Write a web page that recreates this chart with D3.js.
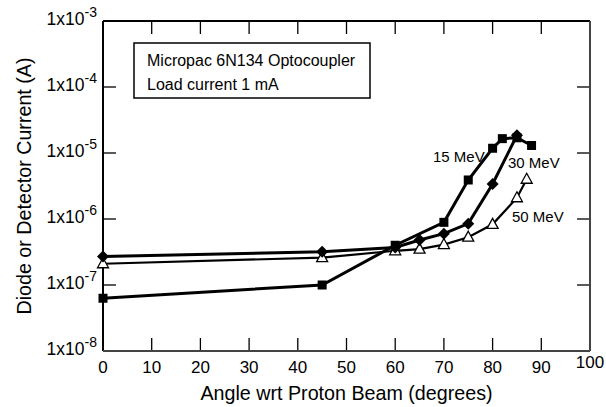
<!DOCTYPE html>
<html><head><meta charset="utf-8">
<script src="https://cdn.jsdelivr.net/npm/d3@7"></script>
<style>body{margin:0;background:#fff}svg{display:block}text{font-family:"Liberation Sans",Arial,sans-serif;fill:#000}</style>
</head><body><svg id="c" width="606" height="407"></svg>
<script>
const angles15 = [0,45,60,70,75,80,82,85,88];
const current15 = [6.3e-8,1.0e-7,4.0e-7,8.9e-7,3.9e-6,1.18e-5,1.65e-5,1.7e-5,1.3e-5];
const angles30 = [0,45,60,65,70,75,80,85];
const current30 = [2.7e-7,3.2e-7,3.7e-7,4.8e-7,6.0e-7,8.5e-7,3.4e-6,1.85e-5];
const angles50 = [0,45,60,65,70,75,80,85,87];
const current50 = [2.1e-7,2.6e-7,3.3e-7,3.5e-7,4.1e-7,5.3e-7,8.3e-7,2.1e-6,4.0e-6];
const xTicks = [0,10,20,30,40,50,60,70,80,90,100];
const yTickExps = [-3,-4,-5,-6,-7,-8];
const seriesLabels = ["15 MeV","30 MeV","50 MeV"];
const legendLines = ["Micropac 6N134 Optocoupler","Load current 1 mA"];

const L=103,R=590,T=21,B=351;
const svg=d3.select("#c");
const x=d3.scaleLinear().domain([0,100]).range([L,R]);
const y=d3.scaleLog().domain([1e-8,1e-3]).range([B,T]);
const tk=13;

const g=svg.append("g");
xTicks.forEach(v=>{
  g.append("line").attr("x1",x(v)).attr("x2",x(v)).attr("y1",B).attr("y2",B-tk).attr("stroke","#000").attr("stroke-width",1.3);
  g.append("line").attr("x1",x(v)).attr("x2",x(v)).attr("y1",T).attr("y2",T+tk).attr("stroke","#000").attr("stroke-width",1.3);
  g.append("text").attr("x",x(v)).attr("y",v===100?368:373).attr("text-anchor","middle").attr("font-size",17).text(v);
});
yTickExps.forEach(e=>{
  const v=Math.pow(10,e);
  g.append("line").attr("x1",L).attr("x2",L+tk).attr("y1",y(v)).attr("y2",y(v)).attr("stroke","#000").attr("stroke-width",1.3);
  g.append("line").attr("x1",R).attr("x2",R-tk).attr("y1",y(v)).attr("y2",y(v)).attr("stroke","#000").attr("stroke-width",1.3);
  const t=g.append("text").attr("x",L-6).attr("y",y(v)+4).attr("text-anchor","end").attr("font-size",17.5);
  t.append("tspan").text("1x10");
  t.append("tspan").attr("dy",-8).attr("font-size",14).text(String(e));
});
svg.append("line").attr("x1",L).attr("x2",R).attr("y1",T).attr("y2",T).attr("stroke","#000").attr("stroke-width",2);
svg.append("line").attr("x1",L).attr("x2",L).attr("y1",T).attr("y2",B).attr("stroke","#000").attr("stroke-width",2);
svg.append("line").attr("x1",L).attr("x2",R).attr("y1",B).attr("y2",B).attr("stroke","#444").attr("stroke-width",2);
svg.append("line").attr("x1",R).attr("x2",R).attr("y1",T).attr("y2",B).attr("stroke","#444").attr("stroke-width",2);

svg.append("text").attr("x",(L+R)/2).attr("y",400).attr("text-anchor","middle").attr("font-size",19.7).text("Angle wrt Proton Beam (degrees)");
svg.append("text").attr("transform",`translate(31,${(T+B)/2}) rotate(-90)`).attr("text-anchor","middle").attr("font-size",19.7).text("Diode or Detector Current (A)");

svg.append("rect").attr("x",134).attr("y",43).attr("width",236).attr("height",55).attr("fill","#fff").attr("stroke","#000").attr("stroke-width",1.5);
legendLines.forEach((s,i)=>svg.append("text").attr("x",147).attr("y",66+i*24).attr("font-size",16).text(s));

const line=d3.line().x(d=>x(d[0])).y(d=>y(d[1]));
const s15=angles15.map((a,i)=>[a,current15[i]]);
const s30=angles30.map((a,i)=>[a,current30[i]]);
const s50=angles50.map((a,i)=>[a,current50[i]]);

svg.append("path").attr("d",line(s50)).attr("fill","none").attr("stroke","#000").attr("stroke-width",2.2);
svg.append("path").attr("d",line(s15)).attr("fill","none").attr("stroke","#000").attr("stroke-width",3);
svg.append("path").attr("d",line(s30)).attr("fill","none").attr("stroke","#000").attr("stroke-width",3);

svg.selectAll(".sq").data(s15).enter().append("rect")
  .attr("x",d=>x(d[0])-4.5).attr("y",d=>y(d[1])-4.5).attr("width",9).attr("height",9).attr("fill","#000");
svg.selectAll(".tri").data(s50).enter().append("path")
  .attr("d",d=>{const cx=x(d[0]),cy=y(d[1]);return `M${cx},${cy-6}L${cx+5.5},${cy+4}L${cx-5.5},${cy+4}Z`;})
  .attr("fill","#fff").attr("stroke","#000").attr("stroke-width",1.3);
svg.selectAll(".dia").data(s30).enter().append("path")
  .attr("d",d=>{const cx=x(d[0]),cy=y(d[1]);return `M${cx},${cy-6}L${cx+6},${cy}L${cx},${cy+6}L${cx-6},${cy}Z`;})
  .attr("fill","#000");

const lp=[[433,162],[508,168],[512,222]];
seriesLabels.forEach((s,i)=>svg.append("text").attr("x",lp[i][0]).attr("y",lp[i][1]).attr("font-size",15).text(s));
</script></body></html>
